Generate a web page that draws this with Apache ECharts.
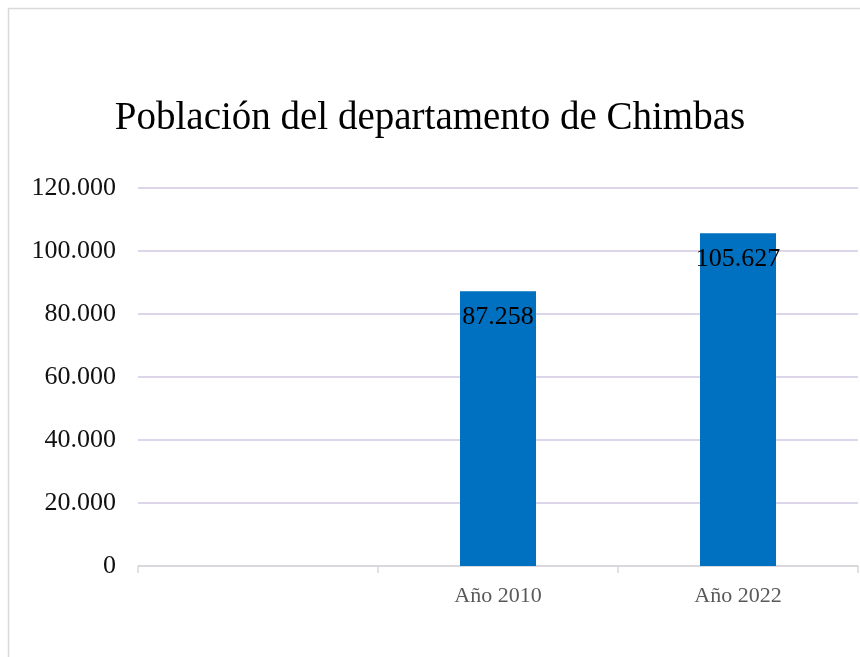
<!DOCTYPE html>
<html lang="es">
<head>
  <meta charset="UTF-8">
  <title>Población Chimbas</title>
  <script src="https://cdn.jsdelivr.net/npm/echarts@6/dist/echarts.min.js"></script>
  <style>
    html, body { margin: 0; padding: 0; background: #fff; }
    #chart { width: 860px; height: 657px; }
  </style>
</head>
<body>
  <div id="chart"></div>
  <script>
    var titleText = 'Población del departamento de Chimbas';
    var categories = ['', 'Año 2010', 'Año 2022'];
    var population = [null, 87258, 105627];
    var yMin = 0, yMax = 120000, yStep = 20000;

    // 87258 -> "87.258"
    function fmt(v) {
      return String(v).replace(/\B(?=(\d{3})+(?!\d))/g, '.');
    }

    var chart = echarts.init(document.getElementById('chart'));
    chart.setOption({
      animation: false,
      title: {
        text: titleText,
        left: 'center',
        top: 94,
        textStyle: {
          fontFamily: 'Liberation Serif',
          fontWeight: 'normal',
          fontSize: 39,
          color: '#000'
        }
      },
      graphic: [{
        type: 'rect',
        shape: { x: 8.5, y: 8.5, width: 900, height: 700 },
        style: { fill: 'none', stroke: '#d9d9d9', lineWidth: 1.5 },
        silent: true
      }],
      grid: { left: 138, right: 2, top: 188, bottom: 91 },
      xAxis: {
        type: 'category',
        data: categories,
        axisLine: { lineStyle: { color: '#d9d9d9', width: 1.5 } },
        axisTick: { show: true, length: 7, lineStyle: { color: '#d9d9d9', width: 1.5 } },
        axisLabel: {
          margin: 19,
          fontFamily: 'Liberation Serif',
          fontSize: 22,
          color: '#595959'
        }
      },
      yAxis: {
        type: 'value',
        min: yMin,
        max: yMax,
        interval: yStep,
        axisLine: { show: false },
        axisTick: { show: false },
        splitLine: { lineStyle: { color: '#d2c9e3', width: 1.5 } },
        axisLabel: {
          margin: 22,
          fontFamily: 'Liberation Serif',
          fontSize: 26,
          color: '#111',
          formatter: fmt
        }
      },
      series: [{
        type: 'bar',
        data: population,
        barWidth: 76,
        itemStyle: { color: '#0070c0' },
        label: {
          show: true,
          position: 'insideTop',
          distance: 13,
          fontFamily: 'Liberation Serif',
          fontSize: 26,
          color: '#000',
          formatter: function (p) { return fmt(p.value); }
        }
      }]
    });
  </script>
</body>
</html>
